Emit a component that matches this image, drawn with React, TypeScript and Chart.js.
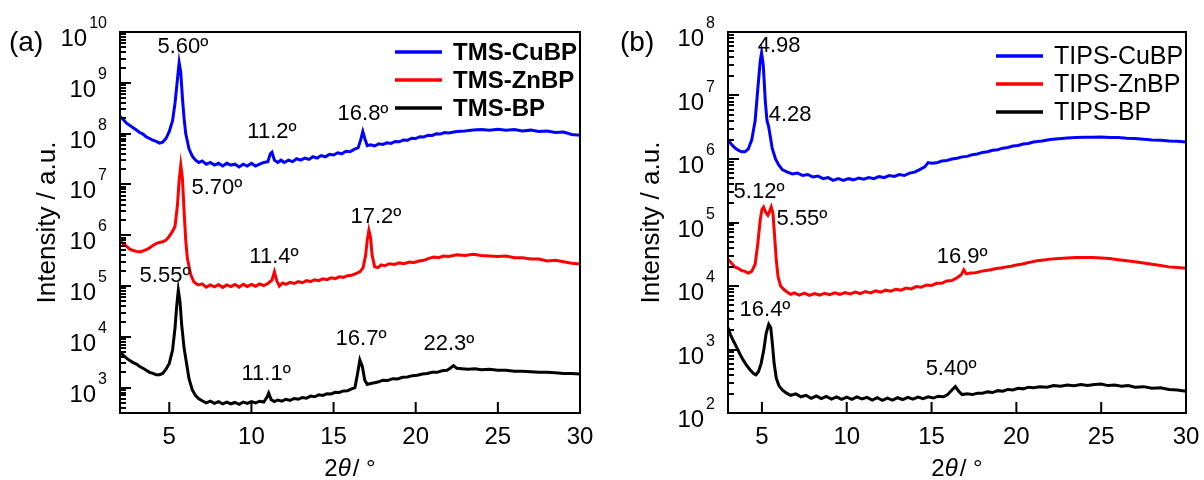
import { useEffect, useRef } from 'react';
import { Chart, registerables } from 'chart.js';
Chart.register(...registerables);

const FONT = '"Liberation Sans", Arial, Helvetica, sans-serif';

// ---------- Panel (a) ----------
const TMS_CuBP: [number, number][] = [
  [2.0, 2.2e8], [2.2, 1.9e8], [2.4, 1.6e8], [2.6, 1.45e8], [2.8, 1.3e8], [3.0, 1.18e8], [3.2, 1.05e8], [3.4, 9.8e7],
  [3.6, 8.6e7], [3.8, 8.0e7], [4.0, 7.4e7], [4.2, 7.0e7], [4.4, 6.5e7], [4.6, 6.8e7], [4.8, 8.0e7], [5.0, 1.1e8],
  [5.2, 1.8e8], [5.35, 4.0e8], [5.5, 1.2e9], [5.6, 2.5e9], [5.7, 1.6e9], [5.8, 5.0e8], [5.9, 2.0e8], [6.0, 1.0e8],
  [6.2, 5.0e7], [6.4, 3.6e7], [6.6, 3.0e7], [6.8, 2.7e7], [7.0, 2.9e7], [7.25, 2.5e7], [7.5, 2.7e7], [7.75, 2.4e7],
  [8.0, 2.6e7], [8.25, 2.3e7], [8.5, 2.6e7], [8.75, 2.4e7], [9.0, 2.5e7], [9.25, 2.2e7], [9.5, 2.5e7], [9.75, 2.3e7],
  [10.0, 2.6e7], [10.25, 2.3e7], [10.5, 2.5e7], [10.75, 2.7e7], [11.0, 2.8e7], [11.15, 4.0e7], [11.25, 4.3e7], [11.4, 3.0e7],
  [11.6, 2.7e7], [11.8, 3.0e7], [12.0, 2.7e7], [12.25, 3.0e7], [12.5, 2.8e7], [12.75, 3.2e7], [13.0, 3.0e7], [13.25, 3.3e7],
  [13.5, 3.1e7], [13.75, 3.5e7], [14.0, 3.3e7], [14.25, 3.7e7], [14.5, 3.5e7], [14.75, 3.9e7], [15.0, 3.8e7], [15.25, 4.2e7],
  [15.5, 4.0e7], [15.75, 4.5e7], [16.0, 4.4e7], [16.25, 4.9e7], [16.5, 5.3e7], [16.65, 7.5e7], [16.78, 1.1e8], [16.9, 8.0e7],
  [17.05, 5.8e7], [17.25, 6.0e7], [17.5, 5.7e7], [17.75, 6.3e7], [18.0, 6.1e7], [18.25, 6.6e7], [18.5, 6.4e7], [18.75, 7.0e7],
  [19.0, 6.9e7], [19.25, 7.5e7], [19.5, 7.4e7], [19.75, 8.1e7], [20.0, 8.0e7], [20.25, 8.7e7], [20.5, 8.6e7], [20.75, 9.3e7],
  [21.0, 9.2e7], [21.25, 9.9e7], [21.5, 9.8e7], [21.75, 1.05e8], [22.0, 1.03e8], [22.5, 1.1e8], [23.0, 1.13e8], [23.5, 1.18e8],
  [24.0, 1.2e8], [24.5, 1.17e8], [25.0, 1.22e8], [25.5, 1.16e8], [26.0, 1.2e8], [26.5, 1.13e8], [27.0, 1.17e8], [27.5, 1.1e8],
  [28.0, 1.12e8], [28.5, 1.05e8], [29.0, 1.07e8], [29.5, 9.6e7], [30.0, 9.3e7],
];

const TMS_ZnBP: [number, number][] = [
  [2.0, 8.0e5], [2.2, 6.8e5], [2.4, 6.0e5], [2.6, 5.3e5], [2.8, 5.0e5], [3.0, 4.8e5], [3.2, 4.7e5], [3.4, 4.9e5],
  [3.6, 5.2e5], [3.8, 5.6e5], [4.0, 6.3e5], [4.2, 6.8e5], [4.4, 7.2e5], [4.6, 7.4e5], [4.8, 8.0e5], [5.0, 9.5e5],
  [5.2, 1.2e6], [5.35, 1.5e6], [5.5, 4.0e6], [5.6, 1.2e7], [5.7, 2.4e7], [5.8, 1.3e7], [5.9, 3.0e6], [6.0, 8.0e5],
  [6.1, 3.5e5], [6.3, 1.7e5], [6.5, 1.2e5], [6.75, 1.05e5], [7.0, 1.1e5], [7.25, 9.5e4], [7.5, 1.05e5], [7.75, 9.6e4],
  [8.0, 1.06e5], [8.25, 9.4e4], [8.5, 1.05e5], [8.75, 9.7e4], [9.0, 1.07e5], [9.25, 9.5e4], [9.5, 1.08e5], [9.75, 9.8e4],
  [10.0, 1.08e5], [10.25, 9.9e4], [10.5, 1.1e5], [10.75, 1.02e5], [11.0, 1.12e5], [11.25, 1.3e5], [11.4, 1.9e5], [11.55, 1.25e5],
  [11.7, 1.0e5], [11.9, 1.15e5], [12.1, 1.08e5], [12.35, 1.18e5], [12.6, 1.12e5], [12.85, 1.22e5], [13.1, 1.16e5], [13.35, 1.28e5],
  [13.6, 1.22e5], [13.85, 1.33e5], [14.1, 1.27e5], [14.35, 1.38e5], [14.6, 1.33e5], [14.85, 1.45e5], [15.1, 1.4e5], [15.35, 1.52e5],
  [15.6, 1.48e5], [15.85, 1.6e5], [16.1, 1.62e5], [16.35, 1.75e5], [16.6, 1.9e5], [16.8, 2.3e5], [16.95, 4.0e5], [17.05, 8.0e5],
  [17.15, 1.25e6], [17.25, 9.0e5], [17.35, 4.0e5], [17.5, 2.4e5], [17.7, 2.3e5], [17.9, 2.6e5], [18.1, 2.5e5], [18.4, 2.75e5],
  [18.7, 2.65e5], [19.0, 2.85e5], [19.3, 2.75e5], [19.6, 2.95e5], [19.9, 2.9e5], [20.2, 3.1e5], [20.5, 3.2e5], [20.8, 3.5e5],
  [21.1, 3.7e5], [21.4, 3.6e5], [21.7, 3.9e5], [22.0, 3.8e5], [22.5, 4.1e5], [23.0, 4.0e5], [23.5, 4.2e5], [24.0, 4.0e5],
  [24.5, 3.9e5], [25.0, 3.8e5], [25.5, 3.9e5], [26.0, 3.6e5], [26.5, 3.6e5], [27.0, 3.4e5], [27.5, 3.4e5], [28.0, 3.1e5],
  [28.5, 3.2e5], [29.0, 3.0e5], [29.5, 2.8e5], [30.0, 2.7e5],
];

const TMS_BP: [number, number][] = [
  [2.0, 5.0e3], [2.2, 4.3e3], [2.4, 3.8e3], [2.6, 3.4e3], [2.8, 3.1e3], [3.0, 2.9e3], [3.2, 2.6e3], [3.4, 2.4e3],
  [3.6, 2.2e3], [3.8, 2.0e3], [4.0, 1.9e3], [4.2, 1.8e3], [4.4, 1.8e3], [4.6, 1.9e3], [4.8, 2.3e3], [5.0, 3.0e3],
  [5.2, 5.5e3], [5.35, 1.5e4], [5.45, 4.0e4], [5.55, 8.3e4], [5.65, 5.0e4], [5.75, 1.8e4], [5.9, 6.0e3], [6.05, 3.0e3],
  [6.2, 1.5e3], [6.4, 9.0e2], [6.6, 7.0e2], [6.8, 6.0e2], [7.0, 5.5e2], [7.25, 5.0e2], [7.5, 5.4e2], [7.75, 4.9e2],
  [8.0, 5.3e2], [8.25, 4.8e2], [8.5, 5.2e2], [8.75, 4.8e2], [9.0, 5.1e2], [9.25, 4.7e2], [9.5, 5.2e2], [9.75, 4.9e2],
  [10.0, 5.3e2], [10.25, 5.0e2], [10.5, 5.4e2], [10.75, 5.2e2], [10.95, 6.5e2], [11.05, 7.8e2], [11.2, 5.8e2], [11.4, 5.3e2],
  [11.6, 5.7e2], [11.85, 5.4e2], [12.1, 5.9e2], [12.35, 5.6e2], [12.6, 6.1e2], [12.85, 5.9e2], [13.1, 6.4e2], [13.35, 6.2e2],
  [13.6, 6.8e2], [13.85, 6.6e2], [14.1, 7.2e2], [14.35, 7.0e2], [14.6, 7.6e2], [14.85, 7.5e2], [15.1, 8.1e2], [15.35, 8.0e2],
  [15.6, 8.6e2], [15.85, 8.7e2], [16.1, 9.4e2], [16.3, 1.0e3], [16.45, 1.8e3], [16.6, 3.5e3], [16.75, 2.6e3], [16.9, 1.4e3],
  [17.05, 1.15e3], [17.25, 1.2e3], [17.5, 1.25e3], [17.75, 1.3e3], [18.0, 1.4e3], [18.3, 1.38e3], [18.6, 1.5e3], [18.9, 1.48e3],
  [19.2, 1.6e3], [19.5, 1.62e3], [19.8, 1.72e3], [20.1, 1.75e3], [20.4, 1.85e3], [20.7, 1.9e3], [21.0, 2.0e3], [21.3, 2.0e3],
  [21.6, 2.15e3], [21.9, 2.2e3], [22.1, 2.4e3], [22.3, 2.7e3], [22.5, 2.4e3], [22.8, 2.35e3], [23.2, 2.3e3], [23.6, 2.35e3],
  [24.0, 2.25e3], [24.5, 2.3e3], [25.0, 2.2e3], [25.5, 2.2e3], [26.0, 2.1e3], [26.5, 2.1e3], [27.0, 2.05e3], [27.5, 2.0e3],
  [28.0, 2.0e3], [28.5, 1.95e3], [29.0, 1.9e3], [29.5, 1.9e3], [30.0, 1.85e3],
];

// ---------- Panel (b) ----------
const TIPS_CuBP: [number, number][] = [
  [3.0, 2.0e6], [3.2, 1.7e6], [3.4, 1.5e6], [3.6, 1.38e6], [3.8, 1.3e6], [4.0, 1.3e6], [4.2, 1.45e6], [4.4, 2.0e6],
  [4.6, 4.0e6], [4.75, 1.2e7], [4.9, 3.5e7], [4.98, 4.7e7], [5.08, 3.0e7], [5.2, 8.0e6], [5.3, 4.0e6], [5.4, 3.2e6],
  [5.5, 2.2e6], [5.6, 1.5e6], [5.8, 1.0e6], [6.0, 8.0e5], [6.2, 6.8e5], [6.5, 6.2e5], [6.8, 5.8e5], [7.1, 6.0e5],
  [7.4, 5.5e5], [7.7, 5.7e5], [8.0, 5.2e5], [8.3, 5.4e5], [8.6, 4.9e5], [8.9, 5.1e5], [9.2, 4.6e5], [9.5, 4.9e5],
  [9.8, 4.6e5], [10.1, 4.9e5], [10.4, 4.7e5], [10.7, 5.0e5], [11.0, 4.8e5], [11.3, 5.1e5], [11.6, 4.9e5], [11.9, 5.3e5],
  [12.2, 5.1e5], [12.5, 5.5e5], [12.8, 5.3e5], [13.1, 5.7e5], [13.4, 5.5e5], [13.7, 6.0e5], [14.0, 6.2e5], [14.3, 6.8e5],
  [14.6, 7.5e5], [14.8, 8.8e5], [15.0, 8.6e5], [15.3, 8.7e5], [15.6, 9.3e5], [15.9, 9.5e5], [16.2, 1.0e6], [16.5, 1.03e6],
  [16.8, 1.08e6], [17.1, 1.1e6], [17.4, 1.17e6], [17.7, 1.2e6], [18.0, 1.27e6], [18.3, 1.3e6], [18.6, 1.37e6], [18.9, 1.4e6],
  [19.2, 1.48e6], [19.5, 1.52e6], [19.8, 1.6e6], [20.1, 1.63e6], [20.4, 1.72e6], [20.7, 1.76e6], [21.0, 1.85e6], [21.5, 1.92e6],
  [22.0, 2.02e6], [22.5, 2.08e6], [23.0, 2.15e6], [23.5, 2.18e6], [24.0, 2.2e6], [24.5, 2.2e6], [25.0, 2.22e6], [25.5, 2.18e6],
  [26.0, 2.18e6], [26.5, 2.12e6], [27.0, 2.1e6], [27.5, 2.05e6], [28.0, 2.0e6], [28.5, 1.98e6], [29.0, 1.92e6], [29.5, 1.9e6],
  [30.0, 1.85e6],
];

const TIPS_ZnBP: [number, number][] = [
  [3.0, 2.6e4], [3.2, 2.3e4], [3.4, 2.0e4], [3.6, 1.9e4], [3.8, 1.75e4], [4.0, 1.7e4], [4.2, 1.6e4], [4.4, 1.7e4],
  [4.6, 2.2e4], [4.75, 4.5e4], [4.9, 1.1e5], [5.0, 1.6e5], [5.1, 1.75e5], [5.22, 1.45e5], [5.35, 1.3e5], [5.45, 1.5e5],
  [5.55, 1.75e5], [5.65, 1.4e5], [5.75, 6.0e4], [5.85, 2.5e4], [5.95, 1.4e4], [6.1, 1.0e4], [6.3, 8.8e3], [6.5, 8.0e3],
  [6.7, 7.4e3], [6.9, 7.8e3], [7.2, 7.2e3], [7.5, 7.7e3], [7.8, 7.1e3], [8.1, 7.6e3], [8.4, 7.2e3], [8.7, 7.7e3],
  [9.0, 7.3e3], [9.3, 7.8e3], [9.6, 7.4e3], [9.9, 7.9e3], [10.2, 7.5e3], [10.5, 8.0e3], [10.8, 7.6e3], [11.1, 8.2e3],
  [11.4, 7.8e3], [11.7, 8.4e3], [12.0, 8.0e3], [12.3, 8.6e3], [12.6, 8.3e3], [12.9, 8.9e3], [13.2, 8.6e3], [13.5, 9.3e3],
  [13.8, 9.0e3], [14.1, 9.8e3], [14.4, 9.6e3], [14.7, 1.04e4], [15.0, 1.02e4], [15.3, 1.1e4], [15.6, 1.1e4], [15.9, 1.2e4],
  [16.2, 1.22e4], [16.5, 1.35e4], [16.75, 1.5e4], [16.9, 1.8e4], [17.05, 1.55e4], [17.3, 1.6e4], [17.6, 1.62e4], [17.9, 1.7e4],
  [18.2, 1.75e4], [18.5, 1.8e4], [18.8, 1.88e4], [19.1, 1.92e4], [19.4, 2.0e4], [19.7, 2.05e4], [20.0, 2.15e4], [20.3, 2.2e4],
  [20.6, 2.3e4], [20.9, 2.4e4], [21.2, 2.5e4], [21.5, 2.55e4], [22.0, 2.65e4], [22.5, 2.7e4], [23.0, 2.75e4], [23.5, 2.8e4],
  [24.0, 2.8e4], [24.5, 2.8e4], [25.0, 2.75e4], [25.5, 2.7e4], [26.0, 2.6e4], [26.5, 2.5e4], [27.0, 2.4e4], [27.5, 2.3e4],
  [28.0, 2.2e4], [28.5, 2.1e4], [29.0, 2.0e4], [29.5, 1.95e4], [30.0, 1.9e4],
];

const TIPS_BP: [number, number][] = [
  [3.0, 2.2e3], [3.15, 1.7e3], [3.3, 1.4e3], [3.5, 1.1e3], [3.7, 8.5e2], [3.9, 6.8e2], [4.1, 5.6e2], [4.3, 4.8e2],
  [4.5, 4.2e2], [4.65, 4.0e2], [4.8, 4.5e2], [4.95, 6.0e2], [5.1, 9.5e2], [5.25, 1.8e3], [5.4, 2.5e3], [5.52, 2.2e3],
  [5.62, 1.2e3], [5.72, 6.0e2], [5.85, 3.5e2], [6.0, 2.7e2], [6.2, 2.3e2], [6.45, 2.05e2], [6.7, 1.9e2], [7.0, 2.0e2],
  [7.3, 1.8e2], [7.6, 1.9e2], [7.9, 1.7e2], [8.2, 1.85e2], [8.5, 1.68e2], [8.8, 1.82e2], [9.1, 1.66e2], [9.4, 1.8e2],
  [9.7, 1.64e2], [10.0, 1.78e2], [10.3, 1.64e2], [10.6, 1.8e2], [10.9, 1.66e2], [11.2, 1.76e2], [11.5, 1.6e2], [11.8, 1.74e2],
  [12.1, 1.58e2], [12.4, 1.72e2], [12.7, 1.6e2], [13.0, 1.74e2], [13.3, 1.63e2], [13.6, 1.76e2], [13.9, 1.65e2], [14.2, 1.78e2],
  [14.5, 1.68e2], [14.8, 1.8e2], [15.1, 1.72e2], [15.4, 1.84e2], [15.7, 1.8e2], [15.95, 1.95e2], [16.2, 2.3e2], [16.4, 2.6e2],
  [16.6, 2.2e2], [16.8, 1.95e2], [17.1, 2.0e2], [17.4, 1.95e2], [17.7, 2.05e2], [18.0, 2.05e2], [18.3, 2.15e2], [18.6, 2.1e2],
  [18.9, 2.25e2], [19.2, 2.2e2], [19.5, 2.35e2], [19.8, 2.3e2], [20.1, 2.45e2], [20.4, 2.4e2], [20.7, 2.55e2], [21.0, 2.5e2],
  [21.4, 2.6e2], [21.8, 2.55e2], [22.2, 2.7e2], [22.6, 2.65e2], [23.0, 2.75e2], [23.4, 2.68e2], [23.8, 2.8e2], [24.2, 2.7e2],
  [24.6, 2.8e2], [25.0, 2.85e2], [25.4, 2.7e2], [25.8, 2.75e2], [26.2, 2.65e2], [26.6, 2.7e2], [27.0, 2.55e2], [27.5, 2.6e2],
  [28.0, 2.45e2], [28.5, 2.5e2], [29.0, 2.35e2], [29.5, 2.3e2], [30.0, 2.2e2],
];

// ---------- labels ----------
const LABELS_A = ['TMS-CuBP', 'TMS-ZnBP', 'TMS-BP'];
const LABELS_B = ['TIPS-CuBP', 'TIPS-ZnBP', 'TIPS-BP'];
const X_TICKS = [5, 10, 15, 20, 25, 30];

// peak annotations: text anchored at (2θ, intensity)
const ANNOT_A = [
  { text: '5.60º', x: 5.83, y: 5.0e9 },
  { text: '11.2º', x: 11.25, y: 1.07e8 },
  { text: '16.8º', x: 16.79, y: 2.4e8 },
  { text: '5.70º', x: 7.9, y: 8.5e6 },
  { text: '17.2º', x: 17.58, y: 2.3e6 },
  { text: '11.4º', x: 11.37, y: 3.7e5 },
  { text: '5.55º', x: 4.74, y: 1.6e5 },
  { text: '16.7º', x: 16.67, y: 9.1e3 },
  { text: '22.3º', x: 22.02, y: 7.2e3 },
  { text: '11.1º', x: 10.89, y: 1.86e3 },
];
const ANNOT_B = [
  { text: '4.98', x: 6.01, y: 6.0e7 },
  { text: '4.28', x: 6.66, y: 4.9e6 },
  { text: '5.12º', x: 4.83, y: 3.0e5 },
  { text: '5.55º', x: 7.36, y: 1.15e5 },
  { text: '16.9º', x: 16.8, y: 2.9e4 },
  { text: '16.4º', x: 5.18, y: 4.2e3 },
  { text: '5.40º', x: 16.15, y: 4.9e2 },
];

const COLORS = ['#0000ff', '#ff0000', '#000000'];

const framePlugin = {
  id: 'xrdFrame',
  afterDraw(chart: any, _args: any, opts: any) {
    const { ctx, chartArea: ca, scales } = chart;
    const xs = scales.x;
    const ys = scales.y;
    ctx.save();
    ctx.strokeStyle = '#000';
    ctx.fillStyle = '#000';

    // ticks (inward)
    ctx.lineWidth = 2;
    ctx.beginPath();
    for (const v of X_TICKS) {
      const px = xs.getPixelForValue(v);
      if (px > ca.left + 2 && px < ca.right - 2) {
        ctx.moveTo(px, ca.bottom);
        ctx.lineTo(px, ca.bottom - 11);
      }
    }
    const lo = Math.log10(ys.min);
    const hi = Math.log10(ys.max);
    for (let k = Math.floor(lo); k <= Math.ceil(hi); k++) {
      for (let m = 1; m <= 9; m++) {
        const v = m * Math.pow(10, k);
        const lv = Math.log10(v);
        if (lv < lo - 1e-9 || lv > hi + 1e-9) continue;
        const py = Math.round(ys.getPixelForValue(v));
        const len = m === 1 ? 11 : 6;
        ctx.moveTo(ca.left, py);
        ctx.lineTo(ca.left + len, py);
      }
    }
    ctx.stroke();

    // frame
    ctx.lineWidth = 2;
    ctx.strokeRect(ca.left, ca.top, ca.right - ca.left, ca.bottom - ca.top);

    // y tick labels 10^k
    const labelRight = ca.left - 13;
    for (let k = Math.ceil(lo - 1e-9); k <= Math.floor(hi + 1e-9); k++) {
      const py = ys.getPixelForValue(Math.pow(10, k));
      ctx.font = `16px ${FONT}`;
      const es = String(k);
      const ew = ctx.measureText(es).width;
      ctx.textAlign = 'right';
      ctx.textBaseline = 'alphabetic';
      ctx.fillText(es, labelRight, py - 4);
      ctx.font = `24px ${FONT}`;
      ctx.fillText('10', labelRight - ew - 2, py + 14);
    }

    // x tick labels
    ctx.font = `24px ${FONT}`;
    ctx.textAlign = 'center';
    ctx.textBaseline = 'middle';
    for (const v of X_TICKS) {
      ctx.fillText(String(v), xs.getPixelForValue(v), ca.bottom + 24);
    }

    // x title: 2θ / °
    const parts = [
      { t: '2', f: `24px ${FONT}` },
      { t: 'θ', f: `italic 24px ${FONT}` },
      { t: '/ °', f: `24px ${FONT}` },
    ];
    let total = 0;
    for (const p of parts) { ctx.font = p.f; total += ctx.measureText(p.t).width; }
    total += 2;
    let cx = (ca.left + ca.right) / 2 - total / 2;
    ctx.textAlign = 'left';
    ctx.textBaseline = 'alphabetic';
    parts.forEach((p, i) => {
      ctx.font = p.f;
      ctx.fillText(p.t, cx, 476);
      cx += ctx.measureText(p.t).width + (i === 1 ? 2 : 0);
    });

    // y title
    ctx.save();
    ctx.translate(opts.yTitleX, (ca.top + ca.bottom) / 2);
    ctx.rotate(-Math.PI / 2);
    ctx.font = `26px ${FONT}`;
    ctx.textAlign = 'center';
    ctx.textBaseline = 'middle';
    ctx.fillText('Intensity / a.u.', 0, 0);
    ctx.restore();

    // panel label
    ctx.font = `28px ${FONT}`;
    ctx.textAlign = 'left';
    ctx.textBaseline = 'alphabetic';
    ctx.fillText(opts.panel, opts.panelX, 51);

    // legend
    const ds = chart.data.datasets;
    ds.forEach((d: any, i: number) => {
      const y = ca.top + opts.legendY0 + i * 28;
      ctx.strokeStyle = d.borderColor;
      ctx.lineWidth = 3.5;
      ctx.beginPath();
      ctx.moveTo(ca.left + opts.legendX0, y);
      ctx.lineTo(ca.left + opts.legendX0 + 47, y);
      ctx.stroke();
      ctx.fillStyle = '#000';
      ctx.font = opts.legendFont;
      ctx.textAlign = 'left';
      ctx.textBaseline = 'middle';
      ctx.fillText(d.label, ca.left + opts.legendX0 + 58, y + 1);
    });

    // annotations
    ctx.fillStyle = '#000';
    ctx.font = `22px ${FONT}`;
    ctx.textAlign = 'center';
    ctx.textBaseline = 'middle';
    for (const a of opts.annotations) {
      ctx.fillText(a.text, xs.getPixelForValue(a.x), ys.getPixelForValue(a.y));
    }
    ctx.restore();
  },
};

type PanelCfg = {
  series: [number, number][][];
  labels: string[];
  xMin: number;
  yMin: number;
  yMax: number;
  padLeft: number;
  padRight: number;
  width: number;
  left: number;
  pluginOpts: any;
};

function Panel({ cfg }: { cfg: PanelCfg }) {
  const ref = useRef<HTMLCanvasElement>(null);
  useEffect(() => {
    const chart = new Chart(ref.current as HTMLCanvasElement, {
      type: 'line',
      data: {
        datasets: cfg.series.map((s, i) => ({
          label: cfg.labels[i],
          data: s.map(([x, y]) => ({ x, y })),
          borderColor: COLORS[i],
          backgroundColor: COLORS[i],
          borderWidth: 3,
          pointRadius: 0,
          tension: 0,
          fill: false,
        })),
      },
      options: {
        responsive: false,
        animation: false,
        devicePixelRatio: 1,
        layout: { padding: { left: cfg.padLeft, right: cfg.padRight, top: 32, bottom: 67 } },
        scales: {
          x: { type: 'linear', min: cfg.xMin, max: 30, display: false },
          y: { type: 'logarithmic', min: cfg.yMin, max: cfg.yMax, display: false },
        },
        plugins: {
          legend: { display: false },
          tooltip: { enabled: false },
          xrdFrame: cfg.pluginOpts,
        } as any,
      },
      plugins: [framePlugin],
    });
    return () => chart.destroy();
  }, []);
  return (
    <canvas
      ref={ref}
      width={cfg.width}
      height={480}
      style={{ position: 'absolute', left: cfg.left, top: 0, width: cfg.width, height: 480 }}
    />
  );
}

const PANEL_A: PanelCfg = {
  series: [TMS_CuBP, TMS_ZnBP, TMS_BP],
  labels: LABELS_A,
  xMin: 2,
  yMin: Math.pow(10, 2.5),
  yMax: 1e10,
  padLeft: 120,
  padRight: 20,
  width: 600,
  left: 0,
  pluginOpts: {
    panel: '(a)', panelX: 9, yTitleX: 48,
    legendX0: 275, legendY0: 20, legendFont: `bold 24px ${FONT}`,
    annotations: ANNOT_A,
  },
};

const PANEL_B: PanelCfg = {
  series: [TIPS_CuBP, TIPS_ZnBP, TIPS_BP],
  labels: LABELS_B,
  xMin: 3,
  yMin: 1e2,
  yMax: 1e8,
  padLeft: 128,
  padRight: 18,
  width: 604,
  left: 600,
  pluginOpts: {
    panel: '(b)', panelX: 20, yTitleX: 52,
    legendX0: 268, legendY0: 24, legendFont: `25px ${FONT}`,
    annotations: ANNOT_B,
  },
};

export default function App() {
  return (
    <div style={{ position: 'absolute', left: 0, top: 0, width: 1204, height: 480, background: '#fff', overflow: 'hidden' }}>
      <Panel cfg={PANEL_A} />
      <Panel cfg={PANEL_B} />
    </div>
  );
}
